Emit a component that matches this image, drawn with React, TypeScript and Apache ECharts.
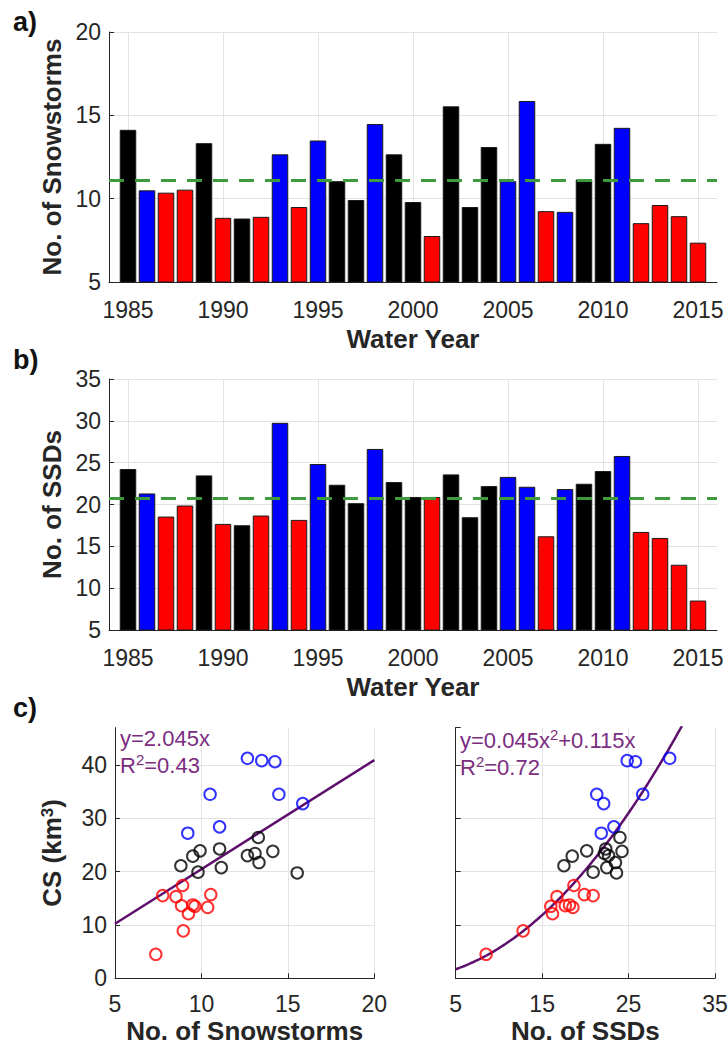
import React, { useEffect, useRef } from 'react';
import * as echarts from 'echarts';

// Water years shown in panels a and b
const years = [
  1985, 1986, 1987, 1988, 1989, 1990, 1991, 1992, 1993, 1994, 1995, 1996, 1997, 1998, 1999, 2000,
  2001, 2002, 2003, 2004, 2005, 2006, 2007, 2008, 2009, 2010, 2011, 2012, 2013, 2014, 2015,
];

// Year class: k = black, b = blue, r = red
const yearClass = [
  'k', 'b', 'r', 'r', 'k', 'r', 'k', 'r', 'b', 'r', 'b', 'k', 'k', 'b', 'k', 'k',
  'r', 'k', 'k', 'k', 'b', 'b', 'r', 'b', 'k', 'k', 'b', 'r', 'r', 'r', 'r',
];

// Number of snowstorms per water year
const snowstorms = [
  14.13, 10.5, 10.36, 10.54, 13.33, 8.85, 8.81, 8.91, 12.66, 9.5, 13.49, 11.05, 9.92, 14.48, 12.66, 9.8,
  7.76, 15.54, 9.5, 13.1, 11.05, 15.86, 9.25, 9.21, 11.15, 13.29, 14.25, 8.53, 9.62, 8.95, 7.36,
];

// Number of SSDs per water year
const ssds = [
  24.24, 21.32, 18.56, 19.88, 23.48, 17.68, 17.52, 18.68, 29.76, 18.16, 24.84, 22.36, 20.16, 26.64, 22.68, 20.9,
  20.9, 23.6, 18.48, 22.2, 23.3, 22.12, 16.2, 21.84, 22.48, 24.0, 25.8, 16.72, 16.0, 12.8, 8.52,
];

// CS (km^3) per water year
const cs = [
  23.8, 34.5, 13.3, 15.7, 21.7, 13.6, 21.1, 17.4, 41.25, 13.75, 40.8, 24.25, 23.9, 34.5, 23.0, 19.9,
  15.5, 19.75, 22.9, 23.4, 28.4, 32.75, 12.1, 27.2, 20.75, 26.4, 40.6, 15.3, 13.5, 8.9, 4.5,
];

// Regression coefficients shown on panel c
const linFit = { a: 2.045, r2: 0.43 };
const quadFit = { a: 0.045, b: 0.115, r2: 0.72 };

const FONT = "'Liberation Sans', Arial, Helvetica, sans-serif";
const AX = '#262626';
const GRID = '#e3e3e3';
const FIT_LINE = '#5e0f6c';
const FIT_TEXT = '#7b2d80';
const MEAN = '#3d9a3d';
const CLASS_COLOR: Record<string, string> = { k: '#000000', b: '#0000ff', r: '#ff0000' };

const mean = (arr: number[]) => arr.reduce((s, v) => s + v, 0) / arr.length;

const axisYears = [String(years[0] - 1), ...years.map(String), String(years[years.length - 1] + 1)];
const every5 = (_i: number, v: string) => Number(v) % 5 === 0;

const titleStyle = { fontFamily: FONT, fontSize: 26, fontWeight: 'bold', color: AX };
const tickLabel = { fontFamily: FONT, fontSize: 23, color: AX };

function yearAxis(gridIndex: number) {
  return {
    type: 'category',
    gridIndex,
    data: axisYears,
    boundaryGap: false,
    name: 'Water Year',
    nameLocation: 'middle',
    nameGap: 44,
    nameTextStyle: titleStyle,
    axisLine: { show: true, lineStyle: { color: AX, width: 1 } },
    axisTick: { show: true, inside: true, length: 5, interval: every5, lineStyle: { color: AX } },
    axisLabel: { ...tickLabel, interval: every5, margin: 16 },
    splitLine: { show: true, interval: every5, lineStyle: { color: GRID, width: 1 } },
  };
}

function valueAxis(
  gridIndex: number,
  min: number,
  max: number,
  interval: number,
  name: string,
  nameGap: number,
  opts: any = {},
) {
  return {
    type: 'value',
    gridIndex,
    min,
    max,
    interval,
    name,
    nameLocation: 'middle',
    nameGap,
    nameTextStyle: titleStyle,
    axisLine: { show: true, lineStyle: { color: AX, width: 1 } },
    axisTick: { show: true, inside: true, length: 5, lineStyle: { color: AX } },
    axisLabel: { ...tickLabel, margin: 8, ...(opts.axisLabel || {}) },
    splitLine: { show: true, lineStyle: { color: GRID, width: 1 } },
    ...(opts.extra || {}),
  };
}

function barSeries(values: number[], axisIndex: number) {
  const data: any[] = ['-'];
  values.forEach((v, i) => {
    data.push({ value: v, itemStyle: { color: CLASS_COLOR[yearClass[i]] } });
  });
  data.push('-');
  return {
    type: 'bar',
    xAxisIndex: axisIndex,
    yAxisIndex: axisIndex,
    data,
    barWidth: '87%',
    clip: true,
    itemStyle: { borderColor: '#1a1a1a', borderWidth: 1 },
    markLine: {
      silent: true,
      symbol: ['none', 'none'],
      label: { show: false },
      lineStyle: { color: MEAN, type: [15, 11], width: 3 },
      data: [{ yAxis: mean(values) }],
    },
  };
}

function scatterSeries(xs: number[], axisIndex: number) {
  return {
    type: 'scatter',
    xAxisIndex: axisIndex,
    yAxisIndex: axisIndex,
    symbol: 'circle',
    symbolSize: 11.5,
    z: 3,
    itemStyle: { color: 'rgba(0,0,0,0)', borderWidth: 2 },
    data: xs.map((x, i) => ({
      value: [x, cs[i]],
      itemStyle: { borderColor: CLASS_COLOR[yearClass[i]] },
    })),
  };
}

// Fitted curves drawn from the stated coefficients
const linXs = [5, 20];
const quadXs: number[] = [];
for (let x = 5; x <= 32; x += 0.25) quadXs.push(x);

const csYMax = 47;

export default function App() {
  const ref = useRef<HTMLDivElement>(null);

  useEffect(() => {
    if (!ref.current) return;
    const chart = echarts.init(ref.current, null, { renderer: 'svg' });

    const scatterYAxis = (gridIndex: number, withName: boolean) =>
      valueAxis(gridIndex, 0, csYMax, 10, withName ? '{b|CS (km}{s|3}{b|)}' : '', 50, {
        axisLabel: { show: withName, showMaxLabel: false },
        extra: {
          nameTextStyle: {
            ...titleStyle,
            rich: {
              b: { ...titleStyle },
              s: { fontFamily: FONT, fontSize: 17, fontWeight: 'bold', color: AX, verticalAlign: 'top' },
            },
          },
          splitLine: {
            show: true,
            lineStyle: { color: [GRID, GRID, GRID, GRID, GRID, 'rgba(0,0,0,0)'], width: 1 },
          },
        },
      });

    const scatterXAxis = (gridIndex: number, max: number, interval: number, name: string) => ({
      ...valueAxis(gridIndex, 5, max, interval, name, 40),
      axisLabel: { ...tickLabel, margin: 14 },
    });

    const eqText = (left: number, first: string, r2: number) => ({
      type: 'text',
      left,
      top: 727,
      z: 10,
      style: {
        text: `${first}\n{t|R}{s|2}{t|=${r2.toFixed(2)}}`,
        rich: {
          t: { fontFamily: FONT, fontSize: 22, fill: FIT_TEXT, lineHeight: 27 },
          s: { fontFamily: FONT, fontSize: 15, fill: FIT_TEXT, lineHeight: 14, verticalAlign: 'top' },
        },
      },
    });

    const panelLabel = (text: string, top: number) => ({
      type: 'text',
      left: 13,
      top,
      style: { text, fontFamily: FONT, fontSize: 27, fontWeight: 'bold', fill: '#111111' },
    });

    const option: any = {
      animation: false,
      backgroundColor: '#ffffff',
      grid: [
        { left: 109, top: 32, width: 608, height: 250, outerBoundsMode: 'none' },
        { left: 109, top: 379, width: 608, height: 251, outerBoundsMode: 'none' },
        { left: 115, top: 727.6, width: 259.3, height: 250.7, outerBoundsMode: 'none' },
        { left: 455.7, top: 727.6, width: 259.3, height: 250.7, outerBoundsMode: 'none' },
      ],
      xAxis: [
        yearAxis(0),
        yearAxis(1),
        scatterXAxis(2, 20, 5, 'No. of Snowstorms'),
        scatterXAxis(3, 35, 10, 'No. of SSDs'),
      ],
      yAxis: [
        valueAxis(0, 5, 20, 5, 'No. of Snowstorms', 43),
        valueAxis(1, 5, 35, 5, 'No. of SSDs', 43),
        scatterYAxis(2, true),
        scatterYAxis(3, false),
      ],
      series: [
        barSeries(snowstorms, 0),
        barSeries(ssds, 1),
        {
          type: 'line',
          xAxisIndex: 2,
          yAxisIndex: 2,
          showSymbol: false,
          clip: true,
          z: 2,
          lineStyle: { color: FIT_LINE, width: 2.5 },
          data: linXs.map((x) => [x, linFit.a * x]),
        },
        {
          type: 'line',
          xAxisIndex: 3,
          yAxisIndex: 3,
          showSymbol: false,
          clip: true,
          z: 2,
          lineStyle: { color: FIT_LINE, width: 2.5 },
          data: quadXs.map((x) => [x, quadFit.a * x * x + quadFit.b * x]),
        },
        scatterSeries(snowstorms, 2),
        scatterSeries(ssds, 3),
      ],
      graphic: [
        panelLabel('a)', 8),
        panelLabel('b)', 346),
        panelLabel('c)', 694),
        eqText(120, `{t|y=${linFit.a.toFixed(3)}x}`, linFit.r2),
        eqText(
          460,
          `{t|y=${quadFit.a.toFixed(3)}x}{s|2}{t|+${quadFit.b.toFixed(3)}x}`,
          quadFit.r2,
        ),
      ],
    };

    chart.setOption(option);
    return () => chart.dispose();
  }, []);

  return (
    <div
      ref={ref}
      style={{ position: 'fixed', left: 0, top: 0, width: 728, height: 1049, background: '#fff' }}
    />
  );
}
